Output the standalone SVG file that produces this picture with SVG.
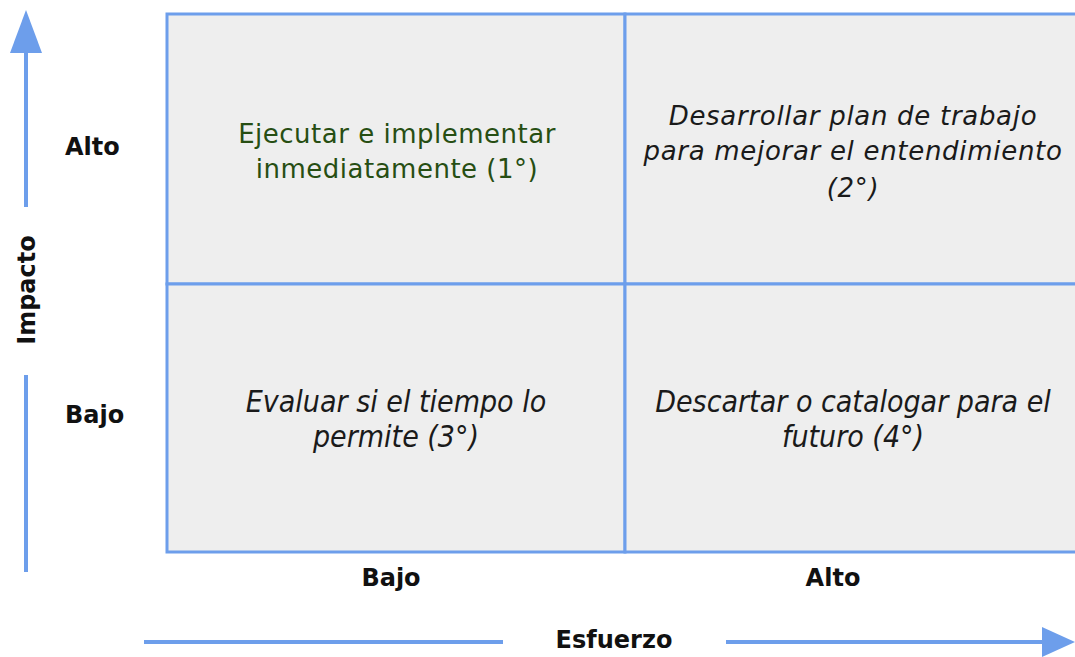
<svg xmlns="http://www.w3.org/2000/svg" width="1075" height="657" viewBox="0 0 1075 657">
<style>
.cell{fill:#eeeeee;stroke:#6d9eeb;stroke-width:3}
.ax{stroke:#6d9eeb;stroke-width:4;fill:none}
.head{fill:#6d9eeb}
.lbl{font-family:"DejaVu Sans",Verdana,sans-serif;font-weight:bold;font-size:24px;fill:#111}
.q{font-family:"DejaVu Sans",Verdana,sans-serif;font-size:26px;text-anchor:middle;fill:#1a1a1a}
.qi{font-style:italic;letter-spacing:0.7px}
.qc{font-family:"DejaVu Sans Condensed","DejaVu Sans",sans-serif;font-stretch:condensed;font-style:italic;font-size:30px;letter-spacing:0}
.green{fill:#274e13;letter-spacing:0.5px}
</style>
<rect width="1075" height="657" fill="#ffffff"/>
<g id="q1"><rect class="cell" x="167" y="14" width="458" height="270"/>
<text class="q green" x="397" y="143">Ejecutar e implementar</text>
<text class="q green" x="397" y="178">inmediatamente (1°)</text></g>
<g id="q2"><rect class="cell" x="625" y="14" width="460" height="270"/>
<text class="q qi" x="853" y="125">Desarrollar plan de trabajo</text>
<text class="q qi" x="853" y="160">para mejorar el entendimiento</text>
<text class="q qi" x="853" y="197">(2°)</text></g>
<g id="q3"><rect class="cell" x="167" y="284" width="458" height="268"/>
<text class="q qc" x="396" y="412">Evaluar si el tiempo lo</text>
<text class="q qc" x="396" y="447">permite (3°)</text></g>
<g id="q4"><rect class="cell" x="625" y="284" width="460" height="268"/>
<text class="q qc" x="853" y="412">Descartar o catalogar para el</text>
<text class="q qc" x="853" y="447">futuro (4°)</text></g>
<g id="connectors">
<line class="ax" x1="26" y1="207" x2="26" y2="48"/>
<polygon class="head" points="26,10 10,53 42,53"/>
<line class="ax" x1="26" y1="375" x2="26" y2="572"/>
<line class="ax" x1="144" y1="642" x2="503" y2="642"/>
<line class="ax" x1="726" y1="642" x2="1045" y2="642"/>
<polygon class="head" points="1042,627 1075,642 1042,657"/>
</g>
<g id="labels">
<text class="lbl" x="65" y="155">Alto</text>
<text class="lbl" x="65" y="423">Bajo</text>
<text class="lbl" x="391" y="586" text-anchor="middle">Bajo</text>
<text class="lbl" x="833" y="586" text-anchor="middle">Alto</text>
<text class="lbl" x="614" y="648" text-anchor="middle">Esfuerzo</text>
<text class="lbl" text-anchor="middle" transform="translate(35,290) rotate(-90)">Impacto</text>
</g>
</svg>
